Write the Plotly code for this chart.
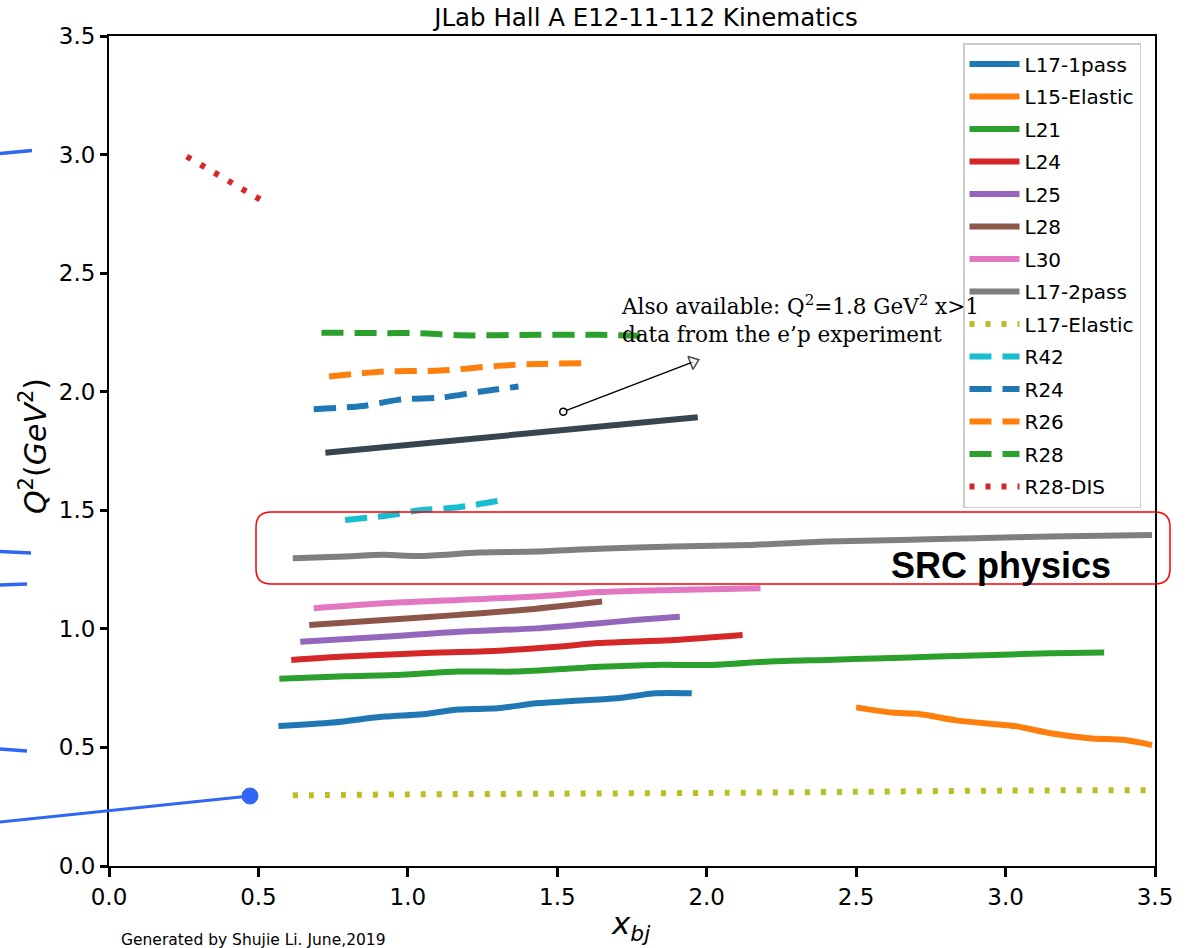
import plotly.graph_objects as go

# ---------------- data ----------------
names = ["L17-1pass", "L15-Elastic", "L21", "L24", "L25", "L28", "L30", "L17-2pass",
         "L17-Elastic", "R42", "R24", "R26", "R28", "R28-DIS"]

x_L17_1pass = [0.567, 0.75, 0.92, 1.05, 1.17, 1.30, 1.43, 1.56, 1.70, 1.83, 1.95]
y_L17_1pass = [0.590, 0.605, 0.630, 0.640, 0.660, 0.665, 0.686, 0.697, 0.707, 0.728, 0.728]

x_L15_Elastic = [2.50, 2.62, 2.71, 2.84, 3.03, 3.15, 3.28, 3.40, 3.49]
y_L15_Elastic = [0.669, 0.647, 0.641, 0.613, 0.590, 0.560, 0.539, 0.531, 0.510]

x_L21 = [0.57, 0.79, 0.98, 1.17, 1.36, 1.56, 1.64, 1.83, 2.02, 2.21, 2.40, 2.59, 2.77, 2.96, 3.15, 3.33]
y_L21 = [0.790, 0.800, 0.806, 0.820, 0.820, 0.834, 0.840, 0.848, 0.848, 0.862, 0.869, 0.876, 0.883, 0.890, 0.897, 0.900]

x_L24 = [0.61, 0.79, 1.04, 1.30, 1.50, 1.64, 1.89, 2.12]
y_L24 = [0.869, 0.883, 0.897, 0.908, 0.925, 0.940, 0.953, 0.974]

x_L25 = [0.64, 0.92, 1.17, 1.43, 1.64, 1.77, 1.91]
y_L25 = [0.946, 0.967, 0.988, 1.002, 1.024, 1.038, 1.051]

x_L28 = [0.67, 0.92, 1.17, 1.43, 1.65]
y_L28 = [1.016, 1.037, 1.059, 1.085, 1.115]

x_L30 = [0.685, 0.92, 1.17, 1.43, 1.64, 1.89, 2.18]
y_L30 = [1.087, 1.108, 1.122, 1.136, 1.155, 1.164, 1.171]

x_L17_2pass = [0.615, 0.79, 0.92, 1.04, 1.24, 1.43, 1.64, 1.89, 2.15, 2.40, 2.65, 2.90, 3.15, 3.49]
y_L17_2pass = [1.298, 1.305, 1.312, 1.307, 1.322, 1.326, 1.338, 1.347, 1.354, 1.368, 1.375, 1.382, 1.389, 1.396]

x_L17_Elastic = [0.615, 1.0, 1.5, 2.0, 2.5, 3.0, 3.49]
y_L17_Elastic = [0.298, 0.302, 0.305, 0.308, 0.313, 0.318, 0.320]

x_R42 = [0.79, 0.92, 1.04, 1.17, 1.30]
y_R42 = [1.459, 1.476, 1.500, 1.513, 1.539]

x_R24 = [0.685, 0.85, 0.98, 1.11, 1.24, 1.37]
y_R24 = [1.926, 1.940, 1.968, 1.975, 2.000, 2.022]

x_R26 = [0.736, 0.92, 1.11, 1.30, 1.43, 1.58]
y_R26 = [2.064, 2.085, 2.089, 2.109, 2.117, 2.120]

x_R28 = [0.711, 0.92, 1.04, 1.17, 1.43, 1.64, 1.79]
y_R28 = [2.249, 2.247, 2.247, 2.238, 2.240, 2.240, 2.236]

x_R28_DIS = [0.26, 0.508]
y_R28_DIS = [2.992, 2.809]

# e'p experiment line (not in legend)
x_ep = [0.724, 1.97]
y_ep = [1.743, 1.892]

# annotation arrow (tail circle -> open head)
x_arrow = [1.52, 1.955]
y_arrow = [1.916, 2.126]

x_ticks = [0.0, 0.5, 1.0, 1.5, 2.0, 2.5, 3.0, 3.5]
y_ticks = [0.0, 0.5, 1.0, 1.5, 2.0, 2.5, 3.0, 3.5]

xs = [x_L17_1pass, x_L15_Elastic, x_L21, x_L24, x_L25, x_L28, x_L30, x_L17_2pass,
      x_L17_Elastic, x_R42, x_R24, x_R26, x_R28, x_R28_DIS]
ys = [y_L17_1pass, y_L15_Elastic, y_L21, y_L24, y_L25, y_L28, y_L30, y_L17_2pass,
      y_L17_Elastic, y_R42, y_R24, y_R26, y_R28, y_R28_DIS]

colors = ["#1f77b4", "#ff7f0e", "#2ca02c", "#d62728", "#9467bd", "#8c564b", "#e377c2",
          "#7f7f7f", "#bcbd22", "#17becf", "#1f77b4", "#ff7f0e", "#2ca02c", "#d62728"]
DOT = "5px,11px"
DASH = "22px,11px"
dashes = ["solid"] * 8 + [DOT, DASH, DASH, DASH, DASH, DOT]

# ---------------- figure ----------------
fig = go.Figure()
for i, (n, x, y, c, d) in enumerate(zip(names, xs, ys, colors, dashes)):
    fig.add_trace(go.Scatter(
        x=x, y=y, mode="lines", name=n, legendgroup=n,
        line=dict(color=c, width=6, dash=d, shape="spline", smoothing=0.8),
    ))

fig.add_trace(go.Scatter(x=x_ep, y=y_ep, mode="lines", showlegend=False,
                         line=dict(color="#36454f", width=6)))

fig.add_trace(go.Scatter(
    x=x_arrow, y=y_arrow, mode="lines+markers", showlegend=False,
    line=dict(color="black", width=1.5),
    marker=dict(symbol=["circle", "triangle-up"], size=[1, 12], color="white",
                angleref="previous", line=dict(color="black", width=1.5)),
))
fig.add_trace(go.Scatter(
    x=x_arrow[:1], y=y_arrow[:1], mode="markers", showlegend=False,
    marker=dict(symbol="circle", size=7, color="white",
                line=dict(color="black", width=1.5)),
))

W, H = 1189, 948
L, R, T, B = 109, 34, 36, 82
pw, ph = W - L - R, H - T - B


def px(xp):
    return (xp - L) / pw


def py(yp):
    return (H - B - yp) / ph


shapes = []
# red rounded rectangle around SRC physics
x0, x1, y0, y1 = px(256), px(1170), py(584), py(512)
rx, ry = 15 / pw, 15 / ph
path = (f"M {x0+rx},{y1} L {x1-rx},{y1} Q {x1},{y1} {x1},{y1-ry} "
        f"L {x1},{y0+ry} Q {x1},{y0} {x1-rx},{y0} L {x0+rx},{y0} "
        f"Q {x0},{y0} {x0},{y0+ry} L {x0},{y1-ry} Q {x0},{y1} {x0+rx},{y1} Z")
shapes.append(dict(type="path", xref="paper", yref="paper", path=path,
                   line=dict(color="#ff0000", width=1.5)))

blue = "#2f66f3"
# blue slide-overlay decorations
shapes.append(dict(type="line", xref="paper", yref="paper", x0=px(0), y0=py(822),
                   x1=px(250), y1=py(796), line=dict(color=blue, width=3)))
shapes.append(dict(type="circle", xref="paper", yref="paper",
                   x0=px(242), x1=px(258), y0=py(804), y1=py(788),
                   fillcolor=blue, line=dict(color=blue, width=1)))
for (a, b, c2, d2) in [(0, 153.5, 32, 150.5), (0, 551.5, 31, 553), (0, 585, 27, 584), (0, 749, 27, 751)]:
    shapes.append(dict(type="line", xref="paper", yref="paper", x0=px(a), y0=py(b),
                       x1=px(c2), y1=py(d2), line=dict(color=blue, width=3.5)))

annotations = [
    dict(text="Also available: Q<sup>2</sup>=1.8 GeV<sup>2</sup> x>1<br>data from the e\u2019p experiment",
         xref="paper", yref="paper", x=px(619), y=py(289), xanchor="left", yanchor="top",
         align="left", showarrow=False,
         font=dict(family="DejaVu Serif", size=21.5, color="black")),
    dict(text="<b>SRC physics</b>", xref="paper", yref="paper", x=px(1001), y=py(565),
         xanchor="center", yanchor="middle", showarrow=False,
         font=dict(family="Liberation Sans", size=36, color="black")),
    dict(text="<i>Q</i><sup>2</sup>(<i>GeV</i><sup>2</sup>)", xref="paper", yref="paper",
         x=px(33), y=py(446), textangle=-90, xanchor="center", yanchor="middle",
         showarrow=False, font=dict(family="DejaVu Sans", size=30, color="black")),
    dict(text="<i>x</i><sub><i>bj</i></sub>", xref="paper", yref="paper",
         x=px(630), y=py(925), xanchor="center", yanchor="middle",
         showarrow=False, font=dict(family="DejaVu Sans", size=31, color="black")),
    dict(text="Generated by Shujie Li. June,2019", xref="paper", yref="paper",
         x=px(119), y=py(940), xanchor="left", yanchor="middle",
         showarrow=False, font=dict(family="DejaVu Sans", size=15.5, color="black")),
]

fig.update_layout(
    width=W, height=H,
    margin=dict(l=L, r=R, t=T, b=B),
    paper_bgcolor="white", plot_bgcolor="white",
    font=dict(family="DejaVu Sans", color="black"),
    title=dict(text="JLab Hall A E12-11-112 Kinematics", xref="paper", x=px(646),
               xanchor="center", yref="container", y=1 - 17 / H, yanchor="middle",
               font=dict(size=24.5, color="black")),
    xaxis=dict(range=[0, 3.5], tickvals=x_ticks, ticktext=[f"{v:.1f}" for v in x_ticks],
               showgrid=False, zeroline=False, showline=True, linecolor="black",
               linewidth=2, mirror=True, ticks="outside", ticklen=9, tickwidth=3,
               tickcolor="black", tickfont=dict(size=23)),
    yaxis=dict(range=[0, 3.5], tickvals=y_ticks, ticktext=[f"{v:.1f}" for v in y_ticks],
               showgrid=False, zeroline=False, showline=True, linecolor="black",
               linewidth=2, mirror=True, ticks="outside", ticklen=7, tickwidth=3,
               tickcolor="black", tickfont=dict(size=23)),
    legend=dict(x=px(963), y=py(43), xanchor="left", yanchor="top",
                bgcolor="white", bordercolor="#cccccc", borderwidth=1.5,
                font=dict(size=20, color="black"), tracegroupgap=3.5,
                itemwidth=50, traceorder="grouped"),
    shapes=shapes,
    annotations=annotations,
)

fig.write_html("out.html")
